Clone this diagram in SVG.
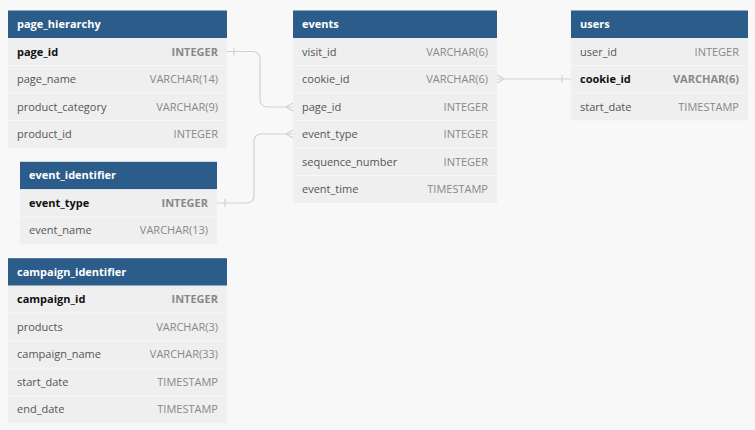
<svg xmlns="http://www.w3.org/2000/svg" width="755" height="430" viewBox="0 0 755 430">
<style>
.bg{fill:#f8f8f8}
.hd{fill:#2c5c89}
.row{fill:#efefef}
.sep{stroke:#f7f7f7;stroke-width:1}
.ht{font-family:"Open Sans","DejaVu Sans",sans-serif;font-size:11px;font-weight:bold;fill:#ffffff}
.fn{font-family:"Open Sans","DejaVu Sans",sans-serif;font-size:11px;fill:#555555}
.ft{font-family:"Open Sans","DejaVu Sans",sans-serif;font-size:11px;fill:#888888;text-anchor:end}
.pk{font-weight:bold;fill:#111111}
.pkt{font-weight:bold;fill:#888888}
.cn{fill:none;stroke:#d2d2d2;stroke-width:1.2}
</style>
<rect class="bg" x="0" y="0" width="755" height="430"/>
<g id="connectors">
<path class="cn" d="M227,51.5 H252 Q260,51.5 260,59.5 V99 Q260,107 268,107 H293"/>
<path class="cn" d="M234,47.5 V55.5"/>
<path class="cn" d="M286,107 L293,103 M286,107 L293,111"/>
<path class="cn" d="M217,203 H246 Q254,203 254,195 V142 Q254,134 262,134 H293"/>
<path class="cn" d="M225,199 V207"/>
<path class="cn" d="M286,134 L293,130 M286,134 L293,138"/>
<path class="cn" d="M497,79 H571"/>
<path class="cn" d="M504,79 L497,75 M504,79 L497,83"/>
<path class="cn" d="M562,75 V83"/>
</g>
<g id="page_hierarchy">
<rect class="hd" x="8" y="10.5" width="219" height="27.5"/>
<text class="ht" x="17" y="28">page_hierarchy</text>
<rect class="row" x="8" y="38" width="219" height="110"/>
<line class="sep" x1="8" y1="65.5" x2="227" y2="65.5"/>
<line class="sep" x1="8" y1="93" x2="227" y2="93"/>
<line class="sep" x1="8" y1="120.5" x2="227" y2="120.5"/>
<text class="fn pk" x="17" y="55.5">page_id</text><text class="ft pkt" x="218" y="55.5">INTEGER</text>
<text class="fn" x="17" y="83">page_name</text><text class="ft" x="218" y="83">VARCHAR(14)</text>
<text class="fn" x="17" y="110.5">product_category</text><text class="ft" x="218" y="110.5">VARCHAR(9)</text>
<text class="fn" x="17" y="138">product_id</text><text class="ft" x="218" y="138">INTEGER</text>
</g>
<g id="events">
<rect class="hd" x="293" y="10.5" width="204" height="27.5"/>
<text class="ht" x="302" y="28">events</text>
<rect class="row" x="293" y="38" width="204" height="165"/>
<line class="sep" x1="293" y1="65.5" x2="497" y2="65.5"/>
<line class="sep" x1="293" y1="93" x2="497" y2="93"/>
<line class="sep" x1="293" y1="120.5" x2="497" y2="120.5"/>
<line class="sep" x1="293" y1="148" x2="497" y2="148"/>
<line class="sep" x1="293" y1="175.5" x2="497" y2="175.5"/>
<text class="fn" x="302" y="55.5">visit_id</text><text class="ft" x="488" y="55.5">VARCHAR(6)</text>
<text class="fn" x="302" y="83">cookie_id</text><text class="ft" x="488" y="83">VARCHAR(6)</text>
<text class="fn" x="302" y="110.5">page_id</text><text class="ft" x="488" y="110.5">INTEGER</text>
<text class="fn" x="302" y="138">event_type</text><text class="ft" x="488" y="138">INTEGER</text>
<text class="fn" x="302" y="165.5">sequence_number</text><text class="ft" x="488" y="165.5">INTEGER</text>
<text class="fn" x="302" y="193">event_time</text><text class="ft" x="488" y="193">TIMESTAMP</text>
</g>
<g id="users">
<rect class="hd" x="571" y="10.5" width="177" height="27.5"/>
<text class="ht" x="580" y="28">users</text>
<rect class="row" x="571" y="38" width="177" height="82.5"/>
<line class="sep" x1="571" y1="65.5" x2="748" y2="65.5"/>
<line class="sep" x1="571" y1="93" x2="748" y2="93"/>
<text class="fn" x="580" y="55.5">user_id</text><text class="ft" x="739" y="55.5">INTEGER</text>
<text class="fn pk" x="580" y="83">cookie_id</text><text class="ft pkt" x="739" y="83">VARCHAR(6)</text>
<text class="fn" x="580" y="110.5">start_date</text><text class="ft" x="739" y="110.5">TIMESTAMP</text>
</g>
<g id="event_identifier">
<rect class="hd" x="20" y="161.8" width="197" height="27.5"/>
<text class="ht" x="29" y="179.3">event_identifier</text>
<rect class="row" x="20" y="189.3" width="197" height="55"/>
<line class="sep" x1="20" y1="216.8" x2="217" y2="216.8"/>
<text class="fn pk" x="29" y="206.8">event_type</text><text class="ft pkt" x="208" y="206.8">INTEGER</text>
<text class="fn" x="29" y="234.3">event_name</text><text class="ft" x="208" y="234.3">VARCHAR(13)</text>
</g>
<g id="campaign_identifier">
<rect class="hd" x="8" y="258.2" width="219" height="27.5"/>
<text class="ht" x="17" y="275.7">campaign_identifier</text>
<rect class="row" x="8" y="285.7" width="219" height="137.5"/>
<line class="sep" x1="8" y1="313.2" x2="227" y2="313.2"/>
<line class="sep" x1="8" y1="340.7" x2="227" y2="340.7"/>
<line class="sep" x1="8" y1="368.2" x2="227" y2="368.2"/>
<line class="sep" x1="8" y1="395.7" x2="227" y2="395.7"/>
<text class="fn pk" x="17" y="303.2">campaign_id</text><text class="ft pkt" x="218" y="303.2">INTEGER</text>
<text class="fn" x="17" y="330.7">products</text><text class="ft" x="218" y="330.7">VARCHAR(3)</text>
<text class="fn" x="17" y="358.2">campaign_name</text><text class="ft" x="218" y="358.2">VARCHAR(33)</text>
<text class="fn" x="17" y="385.7">start_date</text><text class="ft" x="218" y="385.7">TIMESTAMP</text>
<text class="fn" x="17" y="413.2">end_date</text><text class="ft" x="218" y="413.2">TIMESTAMP</text>
</g>
</svg>
